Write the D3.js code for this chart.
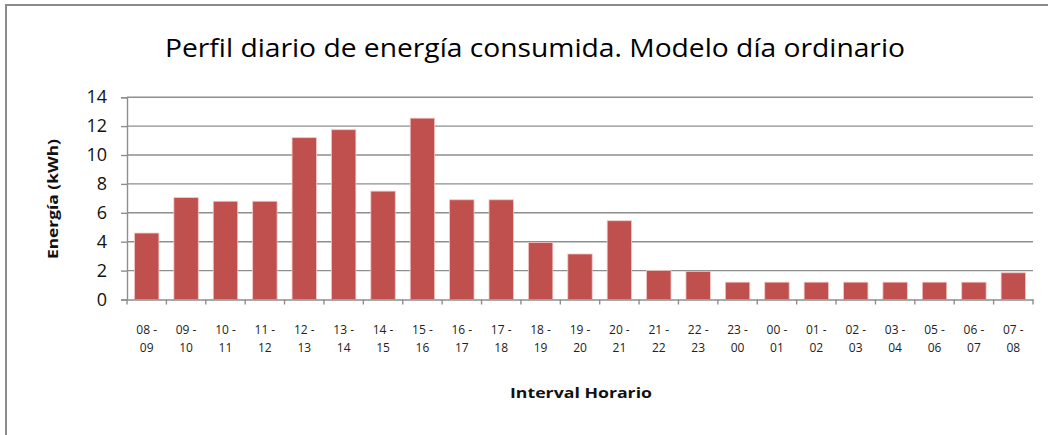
<!DOCTYPE html>
<html><head><meta charset="utf-8">
<script src="https://cdn.jsdelivr.net/npm/d3@7"></script>
<style>body{margin:0;background:#fff}svg{display:block}</style>
</head><body><svg id="c" width="1048" height="435"></svg>
<script>
const categories = ["08-09","09-10","10-11","11-12","12-13","13-14","14-15","15-16","16-17","17-18","18-19","19-20","20-21","21-22","22-23","23-00","00-01","01-02","02-03","03-04","05-06","06-07","07-08"];
const energia = [4.6,7.05,6.8,6.8,11.2,11.75,7.5,12.55,6.9,6.9,3.95,3.15,5.45,2.0,1.95,1.2,1.2,1.2,1.2,1.2,1.2,1.2,1.85];
const yTicks = [0,2,4,6,8,10,12,14];
const title = "Perfil diario de energía consumida. Modelo día ordinario";
const yTitle = "Energía (kWh)";
const xTitle = "Interval Horario";

const svg = d3.select("#c");
const font = "'Open Sans', 'Noto Sans', sans-serif";
const m = {l:127, r:1033, t:97.2, b:299.5};
// frame
svg.append("rect").attr("x",6).attr("y",5).attr("width",1100).attr("height",500)
  .attr("fill","none").attr("stroke","#8c8c8c").attr("stroke-width",2);

const x = d3.scaleBand().domain(categories).range([m.l,m.r]).paddingInner(0.38).paddingOuter(0.19);
const y = d3.scaleLinear().domain([0,14]).range([m.b,m.t]);

// gridlines
svg.append("g").selectAll("line").data(yTicks.filter(d=>d>0)).join("line")
  .attr("x1",m.l).attr("x2",m.r).attr("y1",d=>y(d)).attr("y2",d=>y(d))
  .attr("stroke","#8e8e8e").attr("stroke-width",1.4);

// bars
svg.append("g").selectAll("rect").data(energia).join("rect")
  .attr("x",(d,i)=>x(categories[i])).attr("width",x.bandwidth())
  .attr("y",d=>y(d)).attr("height",d=>y(0)-y(d))
  .attr("fill","#C0504D").attr("stroke","#f0c8c8").attr("stroke-width",0.8);

// y axis
const ya = svg.append("g").attr("transform",`translate(${m.l},0)`)
  .call(d3.axisLeft(y).tickValues(yTicks).tickSize(6).tickPadding(14));
ya.select(".domain").attr("stroke","#8e8e8e").attr("stroke-width",1.4);
ya.selectAll(".tick line").attr("stroke","#8e8e8e").attr("stroke-width",1.4);
ya.selectAll("text").attr("font-family",font).attr("font-size",18).attr("fill","#111");

// x axis
const xa = svg.append("g").attr("transform",`translate(0,${m.b})`)
  .call(d3.axisBottom(x).tickSize(0).tickFormat(""));
xa.select(".domain").attr("stroke","#8e8e8e").attr("stroke-width",1.4);
const step = x.step();
const bounds = d3.range(categories.length+1).map(i=>m.l+i*step);
xa.append("g").selectAll("line").data(bounds).join("line")
  .attr("x1",d=>d).attr("x2",d=>d).attr("y1",0).attr("y2",5)
  .attr("stroke","#8e8e8e").attr("stroke-width",1.4);
const lab = svg.append("g").selectAll("text").data(categories).join("text")
  .attr("font-family",font).attr("font-size",12).attr("fill","#222").attr("text-anchor","middle");
lab.append("tspan").attr("x",d=>x(d)+x.bandwidth()/2).attr("y",334).text(d=>d.split("-")[0]+" -");
lab.append("tspan").attr("x",d=>x(d)+x.bandwidth()/2).attr("y",352).text(d=>d.split("-")[1]);

// titles
svg.append("text").attr("x",535).attr("y",57).attr("text-anchor","middle")
  .attr("font-family",font).attr("font-size",26).attr("fill","#000")
  .attr("textLength",740).attr("lengthAdjust","spacingAndGlyphs").text(title);
svg.append("text").attr("transform","translate(58,199) rotate(-90)").attr("text-anchor","middle")
  .attr("font-family",font).attr("font-weight","bold").attr("font-size",15).attr("fill","#111")
  .attr("textLength",120).attr("lengthAdjust","spacingAndGlyphs").text(yTitle);
svg.append("text").attr("x",581).attr("y",398).attr("text-anchor","middle")
  .attr("font-family",font).attr("font-weight","bold").attr("font-size",15).attr("fill","#111")
  .attr("textLength",142).attr("lengthAdjust","spacingAndGlyphs").text(xTitle);
</script></body></html>
